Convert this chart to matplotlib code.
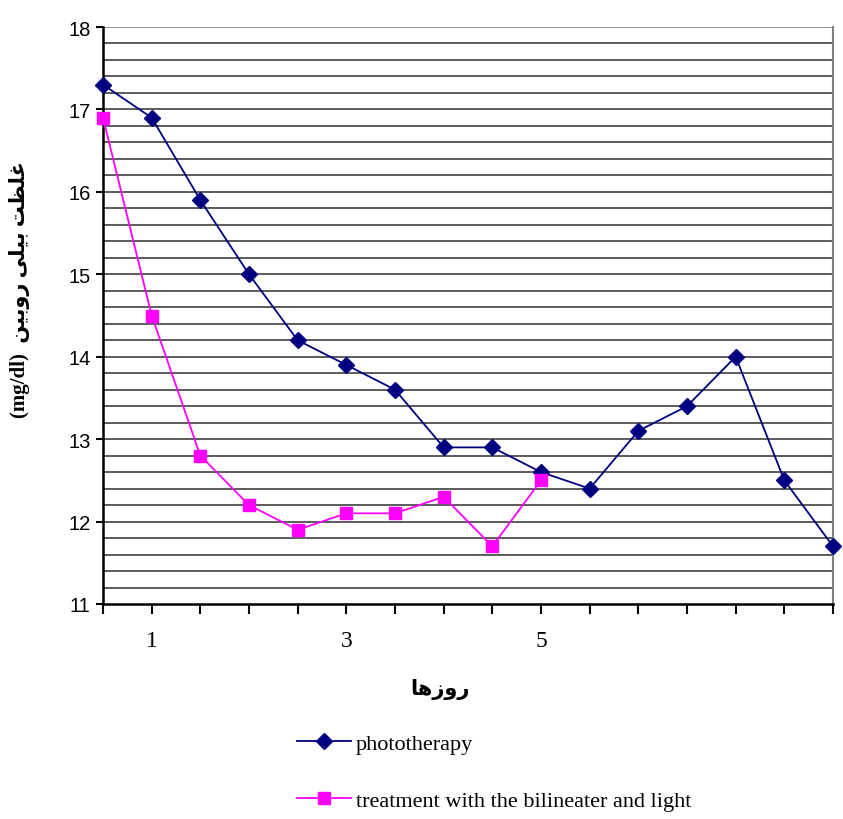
import matplotlib
matplotlib.use("Agg")
import matplotlib.pyplot as plt
import numpy as np

# days (half-day steps) and bilirubin values
days = [0.5, 1.0, 1.5, 2.0, 2.5, 3.0, 3.5, 4.0, 4.5, 5.0, 5.5, 6.0, 6.5, 7.0, 7.5, 8.0]
photo = [17.3, 16.9, 15.9, 15.0, 14.2, 13.9, 13.6, 12.9, 12.9, 12.6, 12.4, 13.1, 13.4, 14.0, 12.5, 11.7]
days_bili = [0.5, 1.0, 1.5, 2.0, 2.5, 3.0, 3.5, 4.0, 4.5, 5.0]
bili = [16.9, 14.5, 12.8, 12.2, 11.9, 12.1, 12.1, 12.3, 11.7, 12.5]
xtick_labels = {1.0: "1", 3.0: "3", 5.0: "5"}

# Persian labels written in visual order with presentation forms
# (matplotlib does no shaping / bidi)
xlabel = "\uFE8E\uFEEB\uFEAF\uFEED\uFEAD"  # روزها
ylabel = ("(mg/dl)  "
          "\uFEE6\uFEF4\uFE91\uFEED\uFEAD"  # روبین
          " "
          "\uFEF0\uFEE0\uFEF4\uFE91"  # بیلی
          " "
          "\uFE96\uFEC8\uFEE0\uFECF")  # غلظت

fig = plt.figure(figsize=(8.43, 8.2), dpi=100)
ax = fig.add_axes([103 / 843, 1 - 605 / 820, 730 / 843, 577 / 820])

# horizontal grid every 0.2
for g in np.arange(11.2, 18.01, 0.2):
    c = "#808080" if g > 17.99 else "#404040"
    ax.axhline(g, color=c, lw=1.2, zorder=1)

ax.plot(days, photo, color="#000080", marker="D", markersize=8.5, lw=1.3,
        label="phototherapy", zorder=3, clip_on=False)
ax.plot(days_bili, bili, color="#FF00FF", marker="s", markersize=9, lw=1.3,
        label="treatment with the bilineater and light", zorder=3, clip_on=False)

ax.set_xlim(0.5, 8.0)
ax.set_ylim(11, 18)
ax.set_xticks(days)
ax.set_xticklabels([xtick_labels.get(d, "") for d in days],
                   fontfamily="Liberation Serif", fontsize=17)
ax.set_yticks(range(11, 19))
ax.set_yticklabels([str(v) for v in range(11, 19)],
                   fontfamily="Liberation Sans", fontsize=14.5)
ax.tick_params(axis="x", direction="out", length=7, width=1.5, pad=12, color="black")
ax.tick_params(axis="y", direction="out", length=5, width=1.5, pad=4, color="black")

for s in ["left", "bottom"]:
    ax.spines[s].set_linewidth(1.8)
    ax.spines[s].set_color("black")
ax.spines["top"].set_visible(False)
ax.spines["right"].set_color("#808080")
ax.spines["right"].set_linewidth(1.5)

fig.text(440 / 843, 1 - 690 / 820, xlabel, ha="center", va="center",
         fontsize=15, fontweight="bold", family=["DejaVu Sans"])
fig.text(20 / 843, 1 - 290 / 820, ylabel, ha="center", va="center", rotation=90,
         fontsize=15, fontweight="bold", family=["Liberation Serif", "DejaVu Sans"])

leg = fig.legend(loc="upper left", bbox_to_anchor=(277 / 843, 1 - 714 / 820),
                 frameon=False, labelspacing=1.65, handlelength=2.45, handletextpad=0.2,
                 prop={"family": "Liberation Serif", "size": 16})

fig.savefig("out.png", dpi=100)
